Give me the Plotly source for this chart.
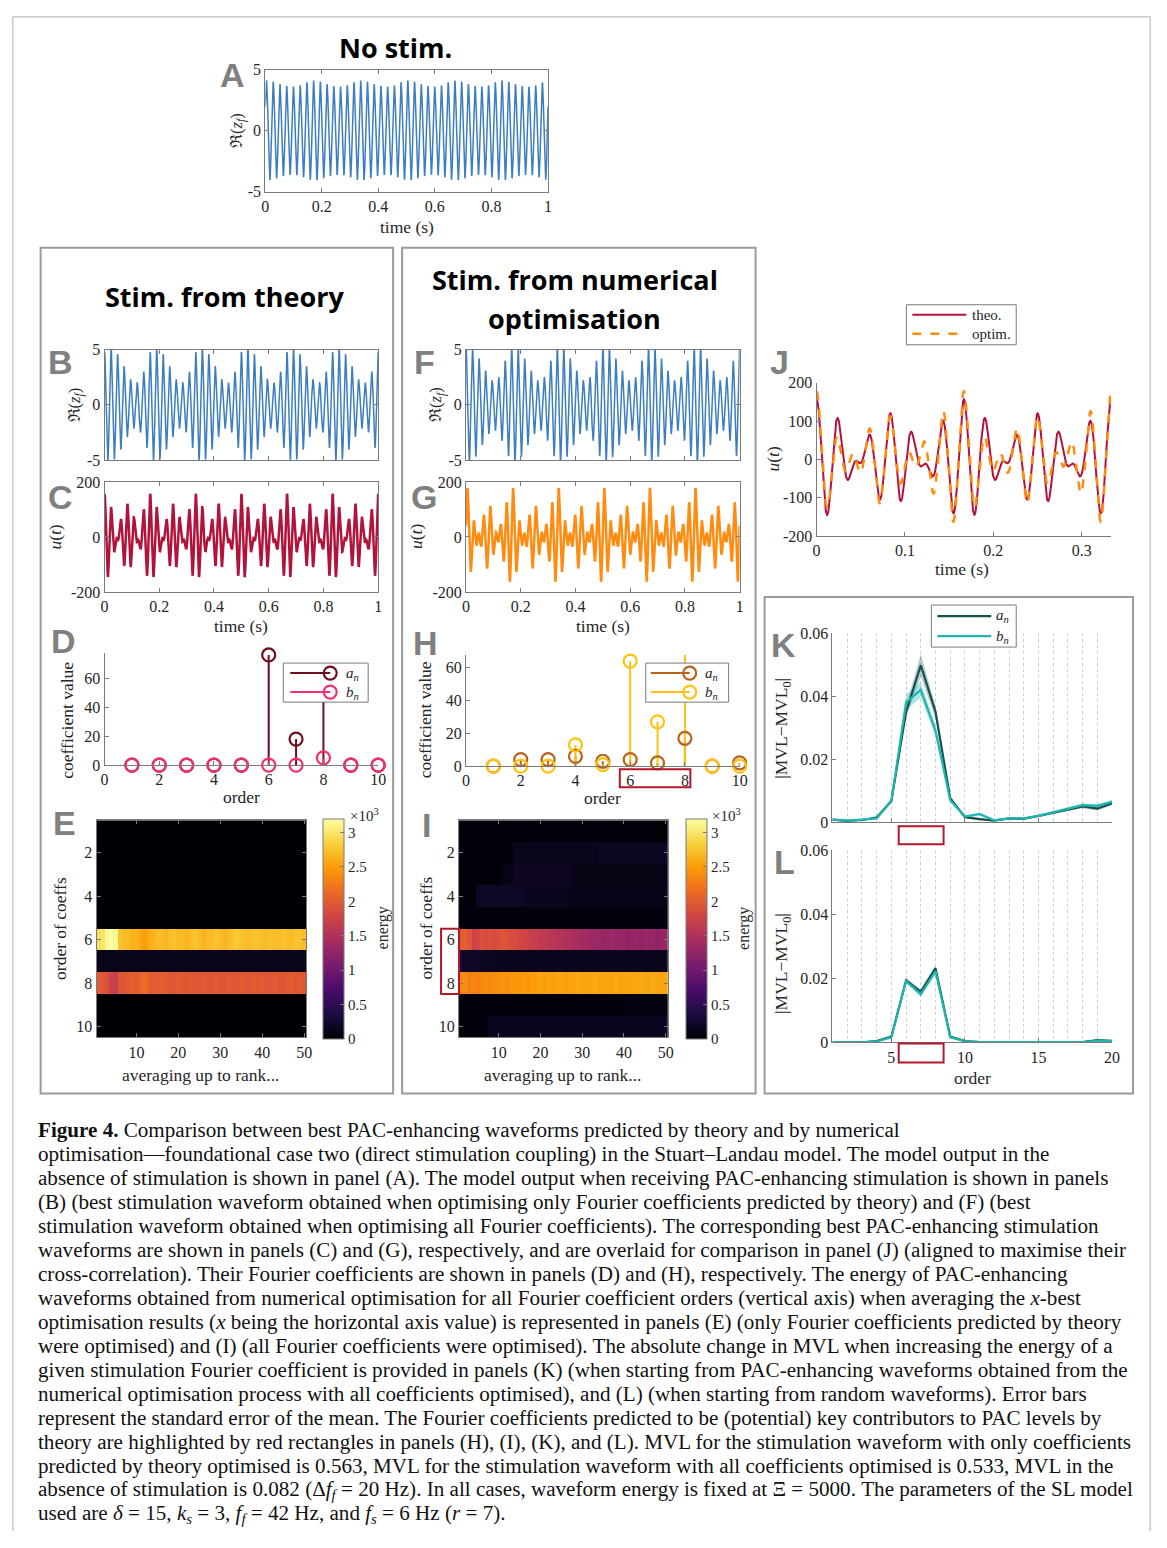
import numpy as np
import plotly.graph_objects as go

# page is 1167x1548; the html body has an 8px margin, so the figure is 16px smaller
PAGE_W, PAGE_H = 1167, 1548
OFF = 8
W, H = PAGE_W - 2 * OFF, PAGE_H - 2 * OFF
# empirical correction of the capture (observed pixel = SC * page pixel + SH)
SCX, SHX = 0.991, 3.4
SCY, SHY = 0.988, 8.6
SERIF = "Liberation Serif"
SANS = "Liberation Sans"
HEAD = "Open Sans"
AXC = "#7a7a7a"
TXT = "#262626"

# ---------------- DATA ----------------
orders = [1, 2, 3, 4, 5, 6, 7, 8, 9, 10]
theo_a = [0, 0, 0, 0, 0, 76, 18, 62.5, 0, 0]
theo_b = [0, 0, 0, 0, 0, 0, 0, 5, 0, 0]
opt_a = [0, 4, 4, 6, 3, 4, 2, 17, 0, 2]
opt_b = [0, 0, 0, 13, 1, 64, 27, 68, 0, 0]
f_s = 6.0
f_f = 42.0
# peak amplitude of Re(z_f) for each of the 7 fast cycles in one slow (6 Hz) period
nostim_cycle_amp = [4.1, 4.0, 3.8, 3.65, 3.6, 3.7, 3.95]
theo_cycle_amp = [4.8, 5.3, 4.6, 3.5, 2.3, 2.0, 3.0]
opt_cycle_amp = [5.3, 5.2, 4.2, 3.1, 2.2, 2.5, 4.0]

ranks = list(range(1, 51))
E_row6 = [2950, 3000, 3150, 3200, 3150, 2750, 2700, 2700, 2650, 2650,
          2550, 2500, 2600, 2650, 2700, 2700, 2650, 2700, 2750, 2700,
          2700, 2650, 2700, 2750, 2700, 2650, 2700, 2700, 2750, 2700,
          2650, 2700, 2750, 2800, 2750, 2700, 2700, 2750, 2750, 2700,
          2700, 2750, 2700, 2700, 2750, 2700, 2700, 2750, 2750, 2700]
E_row7 = [120] * 50
E_row8 = [2000, 1950, 1900, 1750, 1700, 1950, 1950, 2000, 2050, 2000,
          2100, 2150, 2050, 2000, 2000, 2050, 2000, 1950, 1950, 2000,
          1950, 1950, 2000, 1950, 1950, 2000, 1950, 1950, 2000, 1950,
          1950, 2000, 1950, 1950, 2000, 1950, 1950, 2000, 1950, 2000,
          1950, 1950, 2000, 1950, 1950, 2000, 2000, 1950, 2000, 1950]
E_zero = [0] * 50

I_row1 = [30] * 50
I_row2 = [40] * 13 + [140] * 20 + [170] * 17
I_row3 = [30] * 10 + [80] * 3 + [180] * 14 + [100] * 23
I_row4 = [30] * 4 + [200] * 12 + [150] * 10 + [110] * 24
I_row5 = [40] * 50
I_row6 = [2000, 2050, 1950, 1750, 1800, 1900, 1850, 1900, 1850, 1900,
          1950, 1900, 1850, 1850, 1800, 1800, 1750, 1700, 1700, 1650,
          1650, 1600, 1600, 1550, 1550, 1500, 1500, 1450, 1450, 1400,
          1400, 1350, 1350, 1350, 1300, 1300, 1350, 1300, 1300, 1300,
          1250, 1300, 1300, 1250, 1300, 1300, 1300, 1250, 1300, 1300]
I_row7 = [250, 220, 220, 200, 200, 190, 180, 170, 170, 160] + [150] * 40
I_row8 = [2350, 2400, 2300, 2350, 2300, 2350, 2400, 2350, 2400, 2400,
          2450, 2400, 2450, 2450, 2450, 2500, 2450, 2500, 2500, 2550,
          2500, 2550, 2500, 2550, 2550, 2500, 2550, 2550, 2600, 2550,
          2550, 2550, 2600, 2550, 2550, 2550, 2550, 2600, 2550, 2550,
          2550, 2550, 2550, 2600, 2550, 2550, 2600, 2550, 2550, 2550]
I_row9 = [40] * 40 + [70] * 10
I_row10 = [40] * 7 + [160] * 43

mvl_order = list(range(1, 21))
K_a = [0.0008, 0.0004, 0.0007, 0.0015, 0.0067, 0.0350, 0.0498, 0.0350, 0.0076, 0.0016,
       0.0010, 0.0005, 0.0012, 0.0011, 0.0020, 0.0030, 0.0040, 0.0050, 0.0043, 0.0060]
K_a_sem = [0.0003, 0.0002, 0.0002, 0.0003, 0.0006, 0.0020, 0.0035, 0.0020, 0.0006, 0.0003,
           0.0003, 0.0002, 0.0002, 0.0003, 0.0003, 0.0004, 0.0005, 0.0006, 0.0006, 0.0006]
K_b = [0.0008, 0.0005, 0.0008, 0.0012, 0.0068, 0.0380, 0.0420, 0.0290, 0.0070, 0.0018,
       0.0026, 0.0006, 0.0012, 0.0012, 0.0020, 0.0032, 0.0043, 0.0054, 0.0052, 0.0065]
K_b_sem = [0.0003, 0.0002, 0.0002, 0.0003, 0.0006, 0.0025, 0.0025, 0.0018, 0.0006, 0.0003,
           0.0006, 0.0002, 0.0002, 0.0003, 0.0003, 0.0004, 0.0005, 0.0006, 0.0006, 0.0006]
L_a = [0.0, 0.0, 0.0, 0.0004, 0.0018, 0.0194, 0.0158, 0.0232, 0.0018, 0.0004,
       0.0001, 0.0001, 0.0001, 0.0001, 0.0001, 0.0001, 0.0001, 0.0001, 0.0007, 0.0005]
L_a_sem = [0.0001, 0.0001, 0.0001, 0.0001, 0.0002, 0.0007, 0.0008, 0.0007, 0.0002, 0.0001,
           0.0001, 0.0001, 0.0001, 0.0001, 0.0001, 0.0001, 0.0001, 0.0001, 0.0002, 0.0002]
L_b = [0.0, 0.0, 0.0, 0.0003, 0.0016, 0.0192, 0.0150, 0.0222, 0.0016, 0.0004,
       0.0001, 0.0001, 0.0001, 0.0001, 0.0001, 0.0001, 0.0001, 0.0001, 0.0006, 0.0004]
L_b_sem = [0.0001, 0.0001, 0.0001, 0.0001, 0.0002, 0.0007, 0.0008, 0.0007, 0.0002, 0.0001,
           0.0001, 0.0001, 0.0001, 0.0001, 0.0001, 0.0001, 0.0001, 0.0001, 0.0002, 0.0002]

time_ticks = [0, 0.2, 0.4, 0.6, 0.8, 1]
time_labels = ["0", "0.2", "0.4", "0.6", "0.8", "1"]
z_ticks = [-5, 0, 5]
z_labels = ["-5", "0", "5"]
u_ticks = [-200, 0, 200]
u_labels = ["-200", "0", "200"]
j_xticks = [0, 0.1, 0.2, 0.3]
j_xlabels = ["0", "0.1", "0.2", "0.3"]
j_yticks = [-200, -100, 0, 100, 200]
j_ylabels = ["-200", "-100", "0", "100", "200"]
ord_ticks = [0, 2, 4, 6, 8, 10]
ord_labels = ["0", "2", "4", "6", "8", "10"]
coef_ticks = [0, 20, 40, 60]
coef_labels = ["0", "20", "40", "60"]
rank_ticks = [10, 20, 30, 40, 50]
rank_labels = ["10", "20", "30", "40", "50"]
hm_yticks = [2, 4, 6, 8, 10]
hm_ylabels = ["2", "4", "6", "8", "10"]
cb_ticks = [0, 500, 1000, 1500, 2000, 2500, 3000]
cb_labels = ["0", "0.5", "1", "1.5", "2", "2.5", "3"]
mvl_xticks = [5, 10, 15, 20]
mvl_xlabels = ["5", "10", "15", "20"]
mvl_yticks = [0, 0.02, 0.04, 0.06]
mvl_ylabels = ["0", "0.02", "0.04", "0.06"]

caption_lines = [
    "<b>Figure 4.</b> Comparison between best PAC-enhancing waveforms predicted by theory and by numerical",
    "optimisation\u2014foundational case two (direct stimulation coupling) in the Stuart\u2013Landau model. The model output in the",
    "absence of stimulation is shown in panel (A). The model output when receiving PAC-enhancing stimulation is shown in panels",
    "(B) (best stimulation waveform obtained when optimising only Fourier coefficients predicted by theory) and (F) (best",
    "stimulation waveform obtained when optimising all Fourier coefficients). The corresponding best PAC-enhancing stimulation",
    "waveforms are shown in panels (C) and (G), respectively, and are overlaid for comparison in panel (J) (aligned to maximise their",
    "cross-correlation). Their Fourier coefficients are shown in panels (D) and (H), respectively. The energy of PAC-enhancing",
    "waveforms obtained from numerical optimisation for all Fourier coefficient orders (vertical axis) when averaging the <i>x</i>-best",
    "optimisation results (<i>x</i> being the horizontal axis value) is represented in panels (E) (only Fourier coefficients predicted by theory",
    "were optimised) and (I) (all Fourier coefficients were optimised). The absolute change in MVL when increasing the energy of a",
    "given stimulation Fourier coefficient is provided in panels (K) (when starting from PAC-enhancing waveforms obtained from the",
    "numerical optimisation process with all coefficients optimised), and (L) (when starting from random waveforms). Error bars",
    "represent the standard error of the mean. The Fourier coefficients predicted to be (potential) key contributors to PAC levels by",
    "theory are highlighted by red rectangles in panels (H), (I), (K), and (L). MVL for the stimulation waveform with only coefficients",
    "predicted by theory optimised is 0.563, MVL for the stimulation waveform with all coefficients optimised is 0.533, MVL in the",
    "absence of stimulation is 0.082 (\u0394<i>f<sub>f</sub></i> = 20 Hz). In all cases, waveform energy is fixed at \u039e = 5000. The parameters of the SL model",
    "used are <i>\u03b4</i> = 15, <i>k<sub>s</sub></i> = 3, <i>f<sub>f</sub></i> = 42 Hz, and <i>f<sub>s</sub></i> = 6 Hz (<i>r</i> = 7).",
]

# ---------------- helpers ----------------
def X(x):
    page = (x - SHX) / SCX
    return (page - OFF) / W


def Y(y):
    page = (y - SHY) / SCY
    return 1 - (page - OFF) / H


def fourier(t, a, b):
    out = np.zeros_like(t)
    for i in range(len(a)):
        n = i + 1
        out += a[i] * np.cos(2 * np.pi * n * f_s * t) + b[i] * np.sin(2 * np.pi * n * f_s * t)
    return out


def fast_osc(t, amps, c0):
    c = f_f * t + c0
    k = np.mod(c, len(amps))
    env = np.interp(k, np.arange(len(amps) + 1), list(amps) + [amps[0]])
    return env * np.cos(2 * np.pi * c)


fig = go.Figure()
layout = dict(width=W, height=H, margin=dict(l=0, r=0, t=0, b=0),
              paper_bgcolor="white", plot_bgcolor="white", showlegend=False)
shapes = []
annots = []


def axes(n, xpx, ypx, xr, yr, xtv, xtt, ytv, ytt, box=True, xlab=True):
    s = "" if n == 1 else str(n)
    common = dict(showline=True, linecolor=AXC, linewidth=1, ticks="inside", ticklen=4,
                  tickcolor=AXC, tickwidth=1, showgrid=False, zeroline=False,
                  mirror="ticks" if box else False,
                  tickfont=dict(family=SERIF, size=16, color=TXT), fixedrange=True)
    layout["xaxis" + s] = dict(common, domain=[X(xpx[0]), X(xpx[1])], range=xr,
                               tickvals=xtv, ticktext=xtt, showticklabels=xlab, anchor="y" + s)
    layout["yaxis" + s] = dict(common, domain=[Y(ypx[1]), Y(ypx[0])], range=yr,
                               tickvals=ytv, ticktext=ytt, anchor="x" + s)
    return ("x" + s, "y" + s)


def text(x, y, s, size=17.5, family=SERIF, color=TXT, angle=0, xanchor="center"):
    annots.append(dict(x=X(x), y=Y(y), xref="paper", yref="paper", text=s, showarrow=False,
                       font=dict(family=family, size=size, color=color), textangle=angle,
                       xanchor=xanchor, yanchor="middle"))


def rect_px(x0, y0, x1, y1, color, width, fill=None):
    d = dict(type="rect", xref="paper", yref="paper", x0=X(x0), x1=X(x1), y0=Y(y1), y1=Y(y0),
             line=dict(color=color, width=width))
    if fill:
        d["fillcolor"] = fill
    shapes.append(d)


def line_px(x0, y0, x1, y1, color, width, dash="solid"):
    shapes.append(dict(type="line", xref="paper", yref="paper", x0=X(x0), x1=X(x1), y0=Y(y0), y1=Y(y1),
                       line=dict(color=color, width=width, dash=dash)))


def circle_px(cx, cy, r, color, width):
    shapes.append(dict(type="circle", xref="paper", yref="paper", x0=X(cx - r), x1=X(cx + r),
                       y0=Y(cy + r), y1=Y(cy - r), line=dict(color=color, width=width),
                       fillcolor="rgba(0,0,0,0)"))


def stems(xs, vals):
    sx, sy = [], []
    for x, v in zip(xs, vals):
        sx += [x, x, None]
        sy += [0, v, None]
    return sx, sy


BLUE = "#3d7ebf"
THEO = "#b3123b"
OPT = "#ff8c10"
D_A, D_B = "#6e0f1f", "#f0306e"
H_A, H_B = "#b8621b", "#ffc20e"
K_A, K_B = "#15524e", "#1fb5b0"
RED = "#b2182b"

t = np.linspace(0, 1, 4001)

# ---------------- Panel A ----------------
xa, ya = axes(1, (265, 548), (70, 192), [0, 1], [-5, 5], time_ticks, time_labels, z_ticks, z_labels)
fig.add_trace(go.Scatter(x=t, y=fast_osc(t, nostim_cycle_amp, -0.17), mode="lines",
                         line=dict(color=BLUE, width=1.5), xaxis=xa, yaxis=ya))

# ---------------- Panel B / C ----------------
xa, ya = axes(2, (104, 378), (350, 460), [0, 1], [-5, 5], time_ticks, time_labels, z_ticks, z_labels, xlab=False)
fig.add_trace(go.Scatter(x=t, y=fast_osc(t, theo_cycle_amp, 0.0), mode="lines",
                         line=dict(color=BLUE, width=1.5), xaxis=xa, yaxis=ya))
xa, ya = axes(3, (104, 378), (482, 592), [0, 1], [-200, 200], time_ticks, time_labels, u_ticks, u_labels)
fig.add_trace(go.Scatter(x=t, y=fourier(t, theo_a, theo_b), mode="lines",
                         line=dict(color=THEO, width=2.5), xaxis=xa, yaxis=ya))

# ---------------- Panel F / G ----------------
xa, ya = axes(6, (466, 740), (350, 460), [0, 1], [-5, 5], time_ticks, time_labels, z_ticks, z_labels, xlab=False)
fig.add_trace(go.Scatter(x=t, y=fast_osc(t, opt_cycle_amp, 0.0), mode="lines",
                         line=dict(color=BLUE, width=1.5), xaxis=xa, yaxis=ya))
xa, ya = axes(7, (466, 740), (482, 592), [0, 1], [-200, 200], time_ticks, time_labels, u_ticks, u_labels)
fig.add_trace(go.Scatter(x=t, y=fourier(t, opt_a, opt_b), mode="lines",
                         line=dict(color=OPT, width=2.5), xaxis=xa, yaxis=ya))

# ---------------- Panel D / H (stems) ----------------
for n, xpx, ypx, ymax, a, b, ca, cb in [
        (4, (104, 378), (653, 765), 77.3, theo_a, theo_b, D_A, D_B),
        (8, (466, 740), (655, 766), 67.7, opt_a, opt_b, H_A, H_B)]:
    xa, ya = axes(n, xpx, ypx, [0, 10], [0, ymax], ord_ticks, ord_labels, coef_ticks, coef_labels, box=False)
    sx, sy = stems(orders, a)
    fig.add_trace(go.Scatter(x=sx, y=sy, mode="lines", line=dict(color=ca, width=2), xaxis=xa, yaxis=ya))
    sx, sy = stems(orders, b)
    fig.add_trace(go.Scatter(x=sx, y=sy, mode="lines", line=dict(color=cb, width=2), xaxis=xa, yaxis=ya))
    fig.add_trace(go.Scatter(x=orders, y=a, mode="markers", cliponaxis=False,
                             marker=dict(symbol="circle-open", size=13, color=ca, line=dict(width=2.2)),
                             xaxis=xa, yaxis=ya))
    fig.add_trace(go.Scatter(x=orders, y=b, mode="markers", cliponaxis=False,
                             marker=dict(symbol="circle-open", size=13, color=cb, line=dict(width=2.2)),
                             xaxis=xa, yaxis=ya))

# ---------------- Panel E / I (heatmaps) ----------------
E_matrix = [E_zero, E_zero, E_zero, E_zero, E_zero, E_row6, E_row7, E_row8, E_zero, E_zero]
I_matrix = [I_row1, I_row2, I_row3, I_row4, I_row5, I_row6, I_row7, I_row8, I_row9, I_row10]
for n, xpx, cbx, M in [(5, (96, 306), 323, E_matrix), (9, (459, 668), 686, I_matrix)]:
    xa, ya = axes(n, xpx, (820, 1037), [0.5, 50.5], [10.5, 0.5], rank_ticks, rank_labels, hm_yticks, hm_ylabels)
    fig.add_trace(go.Heatmap(z=M, x=ranks, y=orders, colorscale="Inferno", zmin=0, zmax=3200,
                             xaxis=xa, yaxis=ya,
                             colorbar=dict(x=X(cbx), xanchor="left", y=Y(928.5), yanchor="middle",
                                           len=(1037 - 820) / SCY, lenmode="pixels", thickness=21,
                                           thicknessmode="pixels",
                                           outlinecolor=AXC, outlinewidth=1, xpad=0, ypad=0,
                                           tickvals=cb_ticks, ticktext=cb_labels, ticks="inside",
                                           ticklen=4, tickcolor=AXC,
                                           tickfont=dict(family=SERIF, size=15, color=TXT))))

# ---------------- Panel J ----------------
tj = np.linspace(0, 1 / 3, 2001)
tp = np.linspace(0, 1 / f_s, 1200, endpoint=False)
base = fourier(tp, theo_a, theo_b)
scores = [np.dot(base, fourier(tp + tau, opt_a, opt_b)) for tau in tp]
tau_best = tp[int(np.argmax(scores))]
xa, ya = axes(10, (817, 1112), (383, 536), [0, 1 / 3], [-200, 200], j_xticks, j_xlabels, j_yticks, j_ylabels, box=False)
fig.add_trace(go.Scatter(x=tj, y=fourier(tj, theo_a, theo_b), mode="lines",
                         line=dict(color=THEO, width=2), xaxis=xa, yaxis=ya))
fig.add_trace(go.Scatter(x=tj, y=fourier(tj + tau_best, opt_a, opt_b), mode="lines",
                         line=dict(color=OPT, width=2.5, dash="dash"), xaxis=xa, yaxis=ya))

# ---------------- Panel K / L ----------------
for n, ypx, a, asem, b, bsem, xlab in [
        (11, (633, 822), K_a, K_a_sem, K_b, K_b_sem, False),
        (12, (850, 1042), L_a, L_a_sem, L_b, L_b_sem, True)]:
    xa, ya = axes(n, (833, 1113), ypx, [1, 20], [0, 0.06], mvl_xticks, mvl_xlabels, mvl_yticks, mvl_ylabels,
                  box=False, xlab=xlab)
    layout["xaxis" + str(n)].update(showgrid=True, gridcolor="#cfcfcf", griddash="dot", gridwidth=1,
                                    minor=dict(tick0=0, dtick=1, showgrid=True, gridcolor="#cfcfcf",
                                               griddash="dot", gridwidth=1))
    for vals, sem, col, fillc in [(a, asem, K_A, "rgba(21,82,78,0.30)"), (b, bsem, K_B, "rgba(31,181,176,0.35)")]:
        up = [v + s for v, s in zip(vals, sem)]
        lo = [max(v - s, 0) for v, s in zip(vals, sem)]
        fig.add_trace(go.Scatter(x=mvl_order + mvl_order[::-1], y=up + lo[::-1], fill="toself",
                                 fillcolor=fillc, line=dict(width=0), mode="lines", xaxis=xa, yaxis=ya))
    fig.add_trace(go.Scatter(x=mvl_order, y=a, mode="lines", line=dict(color=K_A, width=2.2), xaxis=xa, yaxis=ya))
    fig.add_trace(go.Scatter(x=mvl_order, y=b, mode="lines", line=dict(color=K_B, width=2.2), xaxis=xa, yaxis=ya))

# ---------------- red highlight rectangles ----------------
shapes.append(dict(type="rect", xref="x8", yref="paper", x0=5.62, x1=8.2, y0=Y(787), y1=Y(769),
                   line=dict(color=RED, width=2)))
shapes.append(dict(type="rect", xref="paper", yref="y9", x0=X(441), x1=X(459), y0=5.5, y1=8.5,
                   line=dict(color=RED, width=2)))
shapes.append(dict(type="rect", xref="x11", yref="paper", x0=5.5, x1=8.55, y0=Y(844), y1=Y(826),
                   line=dict(color=RED, width=2)))
shapes.append(dict(type="rect", xref="x12", yref="paper", x0=5.5, x1=8.55, y0=Y(1062), y1=Y(1043),
                   line=dict(color=RED, width=2)))

# ---------------- frames ----------------
e = 0.8 / W
ey = 0.8 / H
shapes.append(dict(type="line", xref="paper", yref="paper", x0=e, x1=1 - e, y0=1 - ey, y1=1 - ey,
                   line=dict(color="#c8c8c8", width=1.5)))
shapes.append(dict(type="line", xref="paper", yref="paper", x0=e, x1=e, y0=0, y1=1 - ey,
                   line=dict(color="#c8c8c8", width=1.5)))
shapes.append(dict(type="line", xref="paper", yref="paper", x0=1 - e, x1=1 - e, y0=0, y1=1 - ey,
                   line=dict(color="#c8c8c8", width=1.5)))
rect_px(40, 248, 393, 1093, "#9a9a9a", 2)
rect_px(402, 248, 756, 1093, "#9a9a9a", 2)
rect_px(765, 597, 1134, 1093, "#9a9a9a", 2)

# ---------------- custom legends ----------------
LEG = "<i>a<sub>n</sub></i>"
LEGB = "<i>b<sub>n</sub></i>"
for (bx0, by0, bx1, by1, lx0, lx1, tx, ca, cb) in [
        (283, 663, 368, 702, 290, 330, 352, D_A, D_B),
        (646, 663, 729, 702, 651, 690, 712, H_A, H_B)]:
    rect_px(bx0, by0, bx1, by1, AXC, 1, fill="white")
    line_px(lx0, 673, lx1, 673, ca, 2)
    circle_px(lx1, 673, 6.5, ca, 2.2)
    line_px(lx0, 692, lx1, 692, cb, 2)
    circle_px(lx1, 692, 6.5, cb, 2.2)
    text(tx, 674, LEG, size=15)
    text(tx, 693, LEGB, size=15)

rect_px(907, 305, 1017, 345, AXC, 1, fill="white")
line_px(913, 315, 967, 315, THEO, 2)
line_px(913, 334, 967, 334, OPT, 2.5, dash="dash")
text(971, 315, "theo.", size=15, xanchor="left")
text(971, 334, "optim.", size=15, xanchor="left")

rect_px(932, 605, 1017, 647, AXC, 1, fill="white")
line_px(938, 616, 992, 616, K_A, 2.2)
line_px(938, 636, 992, 636, K_B, 2.2)
text(1003, 616, LEG, size=15)
text(1003, 637, LEGB, size=15)

# ---------------- titles, letters, axis labels ----------------
text(395, 48, "<b>No stim.</b>", size=27, family=HEAD, color="black")
text(224, 297, "<b>Stim. from theory</b>", size=27, family=HEAD, color="black")
text(575, 280, "<b>Stim. from numerical</b>", size=27, family=HEAD, color="black")
text(575, 319, "<b>optimisation</b>", size=27, family=HEAD, color="black")

for L_, x_, y_ in [("A", 232, 75), ("B", 60, 362), ("C", 60, 497), ("D", 63, 641), ("E", 64, 823),
                   ("F", 424, 362), ("G", 424, 497), ("H", 425, 643), ("I", 426, 825),
                   ("J", 780, 362), ("K", 784, 645), ("L", 785, 862)]:
    text(x_, y_, "<b>" + L_ + "</b>", size=34, family=SANS, color="#808080")

ZF = "\u211c(<i>z<sub>f</sub></i>)"
UT = "<i>u</i>(<i>t</i>)"
text(237, 131, ZF, angle=-90, size=16.5)
text(407, 227, "time (s)")
text(75, 405, ZF, angle=-90, size=16.5)
text(54, 537, UT, angle=-90)
text(241, 626, "time (s)")
text(67, 720, "coefficient value", angle=-90)
text(241, 797, "order")
text(60, 928, "order of coeffs", angle=-90)
text(200, 1075, "averaging up to rank...")
text(383, 928, "energy", angle=-90, size=16)
text(364, 815, "\u00d710<sup>3</sup>", size=15)
text(437, 405, ZF, angle=-90, size=16.5)
text(416, 537, UT, angle=-90)
text(603, 626, "time (s)")
text(425, 720, "coefficient value", angle=-90)
text(603, 798, "order")
text(426, 928, "order of coeffs", angle=-90)
text(563, 1075, "averaging up to rank...")
text(745, 928, "energy", angle=-90, size=16)
text(727, 815, "\u00d710<sup>3</sup>", size=15)
text(773, 459, UT, angle=-90)
text(963, 569, "time (s)")
text(783, 728, "|MVL\u2212MVL<sub>0</sub>|", angle=-90)
text(783, 963, "|MVL\u2212MVL<sub>0</sub>|", angle=-90)
text(973, 1078, "order")

# ---------------- caption ----------------
for i, ln in enumerate(caption_lines):
    text(35, 1129 + 24 * i, ln, size=21.1, color="#111111", xanchor="left")

layout["shapes"] = shapes
layout["annotations"] = annots
fig.update_layout(**layout)
fig.write_html("out.html")
